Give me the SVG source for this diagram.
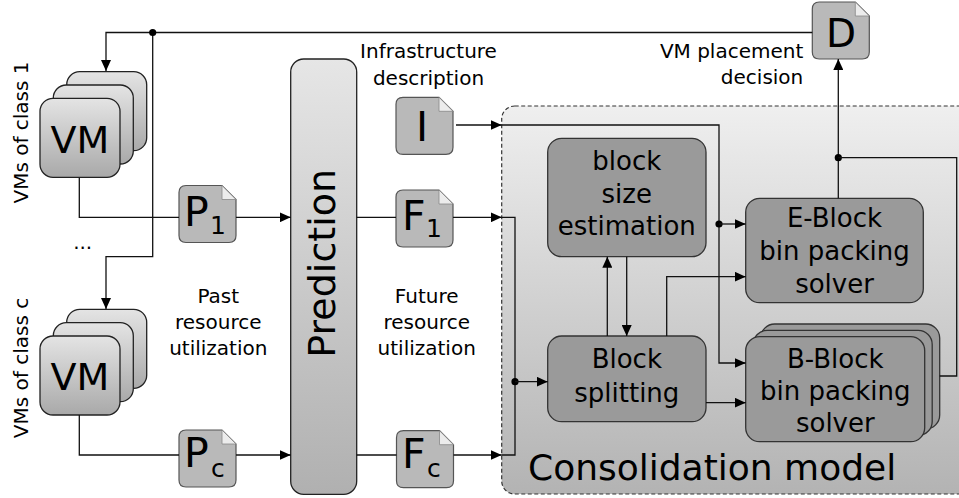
<svg xmlns="http://www.w3.org/2000/svg" xmlns:xlink="http://www.w3.org/1999/xlink" width="959" height="498" viewBox="0 0 959 498">
<defs>
<linearGradient id="gVM" x1="0" y1="0" x2="0" y2="1"><stop offset="0" stop-color="#e4e4e4"/><stop offset="1" stop-color="#a9a9a9"/></linearGradient>
<linearGradient id="gPred" x1="0" y1="0" x2="0" y2="1"><stop offset="0" stop-color="#e6e6e6"/><stop offset="1" stop-color="#b0b0b0"/></linearGradient>
<linearGradient id="gCons" x1="0" y1="0" x2="0" y2="1"><stop offset="0" stop-color="#efefef"/><stop offset="1" stop-color="#b3b3b3"/></linearGradient>
<marker id="arr" markerUnits="userSpaceOnUse" markerWidth="12" markerHeight="10" refX="11" refY="5" orient="auto"><path d="M0,0 L11,5 L0,10 Z" fill="#000"/></marker>
<path id="doc" d="M7,0 H43 L57,14 V50 Q57,57 50,57 H7 Q0,57 0,50 V7 Q0,0 7,0 Z" fill="#b9b9b9" stroke="#555" stroke-width="1.2"/>
<path id="fold" d="M43,0 V14 H57 Z" fill="#ececec" stroke="#888" stroke-width="0.8"/>
<rect id="vm" width="80" height="79" rx="13" fill="url(#gVM)" stroke="#222" stroke-width="1.3"/>
<rect id="bb" width="179" height="105" rx="14" class="blk"/>
</defs>
<style>
text{font-family:"DejaVu Sans","Liberation Sans",sans-serif;fill:#000}
.lbl{font-size:20px}
.blt{font-size:26px;text-anchor:middle}
.blk{fill:#9a9a9a;stroke:#333;stroke-width:1.3}
.ln{fill:none;stroke:#111;stroke-width:1.3}
.ar{marker-end:url(#arr)}
.big{font-size:41px}
.sub{font-size:25px}
</style>

<g id="consolidation">
<rect x="501.7" y="106" width="480" height="388" rx="13" fill="url(#gCons)" stroke="#333" stroke-width="1.2" stroke-dasharray="4,2.5"/>
<text x="528" y="480" style="font-size:36px">Consolidation model</text>
</g>

<g id="vms1">
<use xlink:href="#vm" x="66.7" y="71.7"/>
<use xlink:href="#vm" x="53.3" y="85"/>
<use xlink:href="#vm" x="40" y="98.3"/>
<text x="80" y="153" style="font-size:38px;text-anchor:middle">VM</text>
</g>
<g id="vmsc">
<use xlink:href="#vm" x="66.7" y="309.3"/>
<use xlink:href="#vm" x="53.3" y="322.7"/>
<use xlink:href="#vm" x="40" y="336"/>
<text x="80" y="390" style="font-size:38px;text-anchor:middle">VM</text>
</g>
<text class="lbl" transform="translate(28,132.5) rotate(-90)" text-anchor="middle">VMs of class 1</text>
<text class="lbl" transform="translate(28,368) rotate(-90)" text-anchor="middle">VMs of class c</text>
<text class="lbl" x="82.7" y="249" text-anchor="middle">...</text>

<g id="prediction">
<rect x="290.7" y="59" width="66" height="435.3" rx="13" fill="url(#gPred)" stroke="#222" stroke-width="1.3"/>
<text transform="translate(335,263.3) rotate(-90)" text-anchor="middle" style="font-size:38px">Prediction</text>
</g>

<g id="P1"><use xlink:href="#doc" x="179" y="185.5"/><use xlink:href="#fold" x="179" y="185.5"/>
<text class="big" x="184" y="226">P</text><text class="sub" x="210" y="234">1</text></g>
<g id="Pc"><use xlink:href="#doc" x="179" y="430"/><use xlink:href="#fold" x="179" y="430"/>
<text class="big" x="184" y="467">P</text><text class="sub" x="211" y="477">c</text></g>
<g id="I"><use xlink:href="#doc" x="396" y="97.3"/><use xlink:href="#fold" x="396" y="97.3"/>
<text class="big" x="422" y="140.7" text-anchor="middle">I</text></g>
<g id="F1"><use xlink:href="#doc" x="396" y="190"/><use xlink:href="#fold" x="396" y="190"/>
<text class="big" x="402" y="230">F</text><text class="sub" x="426" y="237">1</text></g>
<g id="Fc"><use xlink:href="#doc" x="396.5" y="430.7"/><use xlink:href="#fold" x="396.5" y="430.7"/>
<text class="big" x="402" y="468.3">F</text><text class="sub" x="427" y="477">c</text></g>
<g id="D"><use xlink:href="#doc" x="812.3" y="2"/><use xlink:href="#fold" x="812.3" y="2"/>
<text x="841" y="46.7" text-anchor="middle" style="font-size:39px">D</text></g>

<text class="lbl" x="428.5" y="58" text-anchor="middle">Infrastructure</text>
<text class="lbl" x="428.5" y="85" text-anchor="middle">description</text>
<text class="lbl" x="803.3" y="58" text-anchor="end">VM placement</text>
<text class="lbl" x="803.3" y="84.3" text-anchor="end">decision</text>
<text class="lbl" x="218.3" y="302.7" text-anchor="middle">Past</text>
<text class="lbl" x="218.3" y="329.3" text-anchor="middle">resource</text>
<text class="lbl" x="218.3" y="355" text-anchor="middle">utilization</text>
<text class="lbl" x="426.7" y="302.7" text-anchor="middle">Future</text>
<text class="lbl" x="426.7" y="329.3" text-anchor="middle">resource</text>
<text class="lbl" x="426.7" y="355" text-anchor="middle">utilization</text>

<g id="bse">
<rect x="547.7" y="138.3" width="158.3" height="118.4" rx="14" class="blk"/>
<text class="blt" x="626.8" y="170">block</text>
<text class="blt" x="626.8" y="202.7">size</text>
<text class="blt" x="626.8" y="235">estimation</text>
</g>
<g id="bsplit">
<rect x="547.7" y="336" width="158.3" height="85.7" rx="14" class="blk"/>
<text class="blt" x="626.8" y="368.3">Block</text>
<text class="blt" x="626.8" y="401.7">splitting</text>
</g>
<g id="eblock">
<rect x="745.7" y="198.3" width="177.6" height="104.4" rx="14" class="blk"/>
<text class="blt" x="834.5" y="227.3">E-Block</text>
<text class="blt" x="834.5" y="259.5">bin packing</text>
<text class="blt" x="834.5" y="292.5">solver</text>
</g>
<g id="bblock">
<use xlink:href="#bb" x="760.7" y="324"/>
<use xlink:href="#bb" x="753.2" y="330.4"/>
<use xlink:href="#bb" x="745.7" y="336.7"/>
<text class="blt" x="835.3" y="368.3">B-Block</text>
<text class="blt" x="835.3" y="399.5">bin packing</text>
<text class="blt" x="835.3" y="431.7">solver</text>
</g>

<g id="connectors">
<path class="ln ar" d="M812.3,32.5 H106 V71"/>
<path class="ln ar" d="M152.7,32.5 V256.7 H106 V309"/>
<circle cx="152.7" cy="32.5" r="3.6" fill="#000"/>
<path class="ln" d="M79.3,177.7 V217.3 H179"/>
<path class="ln ar" d="M236,217.3 H290.7"/>
<path class="ln" d="M79.3,415 V455 H179"/>
<path class="ln ar" d="M236,455 H290.7"/>
<path class="ln" d="M356.7,217.3 H396"/>
<path class="ln" d="M356.7,455 H396.5"/>
<path class="ln ar" d="M453,217.3 H501.7"/>
<path class="ln ar" d="M453.5,455 H501.7"/>
<path class="ln" d="M501.7,217.3 H515 V455 H501.7"/>
<circle cx="515" cy="381.7" r="3.6" fill="#000"/>
<path class="ln ar" d="M515,381.7 H547.7"/>
<path class="ln ar" d="M456,125 H501.7"/>
<path class="ln ar" d="M501.7,125 H719 V363 H745.7"/>
<circle cx="719" cy="224" r="3.6" fill="#000"/>
<path class="ln ar" d="M719,224 H745.7"/>
<path class="ln ar" d="M607.3,336 V256.7"/>
<path class="ln ar" d="M626.7,256.7 V336"/>
<path class="ln ar" d="M666.7,336 V276.7 H745.7"/>
<path class="ln ar" d="M706,402.7 H745.7"/>
<path class="ln ar" d="M838.3,198.3 V59"/>
<circle cx="838.3" cy="157.7" r="3.6" fill="#000"/>
<path class="ln" d="M838.3,157.7 H956.7 V376 H939.7"/>
</g>
</svg>
